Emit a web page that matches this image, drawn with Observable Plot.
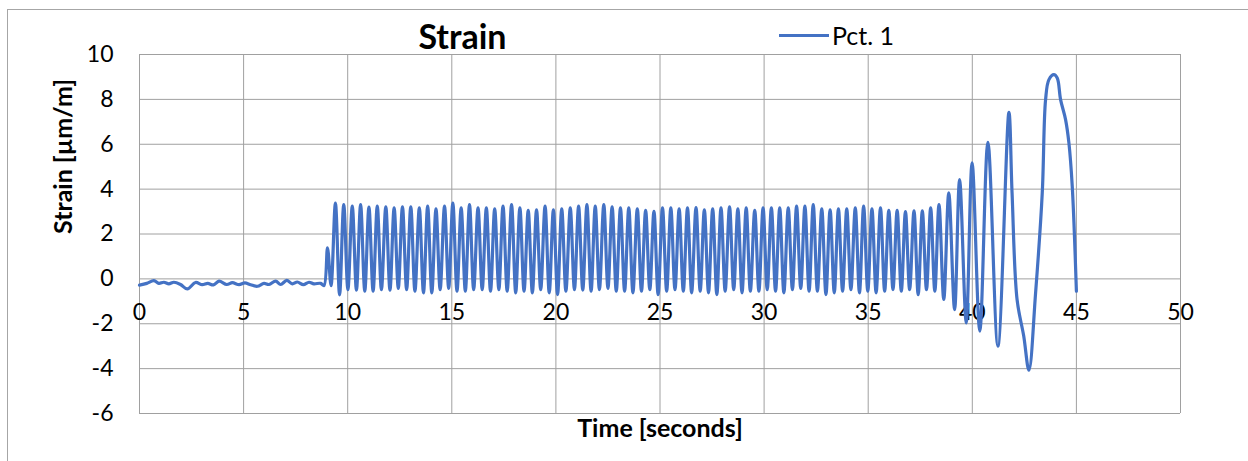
<!DOCTYPE html>
<html>
<head>
<meta charset="utf-8">
<script src="https://cdn.jsdelivr.net/npm/d3@7"></script>
<script src="https://cdn.jsdelivr.net/npm/@observablehq/plot@0.6"></script>
<style>
  html, body { margin: 0; padding: 0; background: #fff; }
  #wrap { position: relative; width: 1248px; height: 461px; overflow: hidden; font-family: Lato, "Open Sans", sans-serif; }
  #border { position: absolute; left: 7px; top: 9px; width: 1300px; height: 500px; border-left: 1px solid #a6a6a6; border-top: 1px solid #a6a6a6; }
  #chart { position: absolute; left: 0; top: 0; }
  #legend { position: absolute; left: 779px; top: 21px; height: 28px; display: flex; align-items: center; }
  #legend .sw { width: 50px; height: 3px; background: #4472C4; }
  #legend .lb { margin-left: 3px; font-size: 25px; line-height: 28px; color: #000; }
</style>
</head>
<body>
<div id="wrap">
  <div id="border"></div>
  <div id="chart"></div>
  <div id="legend"><span class="sw"></span><span class="lb"></span></div>
</div>
<script>
const chartTitle = "Strain";
const xTitle = "Time [seconds]";
const yTitle = "Strain [µm/m]";
const seriesName = "Pct. 1";
const xTicks = [0, 5, 10, 15, 20, 25, 30, 35, 40, 45, 50];
const yTicks = [-6, -4, -2, 0, 2, 4, 6, 8, 10];

// time [s] of each read point (extrema of the recorded signal)
const time = [
  0.00,0.35,0.69,0.93,1.17,1.41,1.65,1.97,2.30,2.69,
  3.01,3.28,3.55,3.82,4.19,4.46,4.78,5.06,5.34,5.66,
  5.98,6.22,6.54,6.78,7.07,7.34,7.58,7.87,8.14,8.38,
  8.70,8.86,9.03,9.20,
  9.41,9.61,9.81,10.01,10.22,10.42,10.62,10.82,11.02,11.22,
  11.42,11.62,11.83,12.03,12.23,12.43,12.63,12.83,13.03,13.23,
  13.44,13.64,13.84,14.04,14.24,14.44,14.65,14.85,15.05,15.25,
  15.45,15.65,15.85,16.05,16.26,16.46,16.66,16.86,17.06,17.26,
  17.46,17.66,17.87,18.07,18.27,18.47,18.67,18.87,19.07,19.27,
  19.48,19.68,19.88,20.08,20.28,20.48,20.69,20.89,21.09,21.29,
  21.49,21.69,21.89,22.09,22.30,22.50,22.70,22.90,23.10,23.30,
  23.50,23.70,23.91,24.11,24.31,24.51,24.71,24.91,25.12,25.32,
  25.52,25.72,25.92,26.12,26.32,26.52,26.73,26.93,27.13,27.33,
  27.53,27.73,27.93,28.13,28.34,28.54,28.74,28.94,29.14,29.34,
  29.55,29.75,29.95,30.15,30.35,30.55,30.75,30.95,31.16,31.36,
  31.56,31.76,31.96,32.16,32.36,32.56,32.77,32.97,33.17,33.37,
  33.57,33.77,33.97,34.17,34.38,34.58,34.78,34.98,35.18,35.38,
  35.59,35.79,35.99,36.19,36.39,36.59,36.79,36.99,37.20,37.40,
  37.60,37.80,38.00,38.20,38.40,38.63,38.87,39.15,39.39,39.71,
  39.99,40.36,40.75,41.23,
  41.76,41.91,42.15,42.47,42.72,43.04,43.36,43.52,43.68,43.92,
  44.08,44.24,44.48,44.64,44.80,45.00
];

// strain [µm/m] at those points
const strain = [
  -0.28,-0.20,-0.08,-0.20,-0.15,-0.22,-0.15,-0.25,-0.45,-0.16,
  -0.26,-0.20,-0.27,-0.10,-0.25,-0.17,-0.26,-0.18,-0.26,-0.33,
  -0.20,-0.25,-0.10,-0.25,-0.07,-0.22,-0.14,-0.26,-0.15,-0.22,
  -0.20,-0.30,1.38,-0.30,
  3.38,-0.71,3.31,-0.48,3.24,-0.50,3.31,-0.55,3.20,-0.55,
  3.24,-0.48,3.21,-0.50,3.16,-0.42,3.21,-0.48,3.21,-0.55,
  3.16,-0.62,3.24,-0.62,3.12,-0.48,3.24,-0.42,3.38,-0.55,
  3.16,-0.55,3.31,-0.48,3.16,-0.48,3.16,-0.55,3.12,-0.48,
  3.24,-0.55,3.31,-0.62,3.16,-0.55,3.05,-0.62,3.08,-0.48,
  3.24,-0.62,3.08,-0.70,3.12,-0.55,3.16,-0.48,3.24,-0.50,
  3.31,-0.55,3.24,-0.48,3.31,-0.42,3.21,-0.55,3.16,-0.55,
  3.16,-0.62,3.12,-0.55,3.05,-0.48,3.01,-0.70,3.16,-0.55,
  3.16,-0.48,3.12,-0.55,3.16,-0.62,3.18,-0.55,3.08,-0.62,
  3.12,-0.70,3.16,-0.55,3.21,-0.48,3.12,-0.62,3.16,-0.55,
  3.05,-0.55,3.16,-0.48,3.16,-0.55,3.16,-0.62,3.16,-0.48,
  3.24,-0.42,3.24,-0.55,3.31,-0.55,3.12,-0.70,3.08,-0.62,
  3.12,-0.55,3.12,-0.48,3.16,-0.62,3.24,-0.55,3.12,-0.62,
  3.16,-0.55,3.05,-0.48,3.05,-0.55,3.00,-0.48,3.03,-0.70,
  3.03,-0.48,3.16,-0.55,3.31,-0.92,3.83,-1.37,4.42,-1.96,
  5.17,-2.33,6.09,-3.00,
  7.42,3.83,-0.92,-2.55,-4.07,-0.62,3.83,7.99,8.88,9.10,
  8.95,7.99,7.10,6.06,4.13,-0.55
];

const data = time.map((t, i) => ({t, v: strain[i]}));
const font = "Lato, 'Open Sans', sans-serif";
const grid = "#a0a0a0";

const chart = Plot.plot({
  width: 1248,
  height: 461,
  marginLeft: 139,
  marginRight: 68,
  marginTop: 54,
  marginBottom: 48,
  style: {fontFamily: font, background: "transparent", color: "#000", overflow: "visible"},
  x: {domain: [0, 50], axis: null},
  y: {domain: [-6, 10], axis: null},
  marks: [
    Plot.ruleX(xTicks, {x: d => d, stroke: grid, strokeWidth: 1}),
    Plot.ruleY(yTicks, {y: d => d, stroke: grid, strokeWidth: 1}),
    Plot.axisY({ticks: yTicks, tickSize: 0, tickPadding: 26, fontSize: 23, tickFormat: d => String(d), label: null, fill: "#000"}),
    Plot.text(xTicks, {x: d => d, y: 0, dy: 34, text: d => String(d), fontSize: 23, fill: "#000"}),
    Plot.line(data, {x: "t", y: "v", stroke: "#4472C4", strokeWidth: 3.2, curve: "catmull-rom", strokeLinejoin: "round", strokeLinecap: "round"}),
    Plot.text([yTitle], {frameAnchor: "left", dx: -76, rotate: -90, text: d => d, fontSize: 25, fontWeight: "bold", fill: "#000"}),
    Plot.text([xTitle], {frameAnchor: "bottom", dy: 23, text: d => d, fontSize: 25, fontWeight: "bold", fill: "#000"}),
    Plot.text([chartTitle], {frameAnchor: "top-left", dx: 323, dy: -16, textAnchor: "middle", lineAnchor: "middle", text: d => d, fontSize: 34, fontWeight: "bold", fill: "#000"})
  ]
});
document.getElementById("chart").appendChild(chart);
document.querySelector("#legend .lb").textContent = seriesName;
</script>
</body>
</html>
